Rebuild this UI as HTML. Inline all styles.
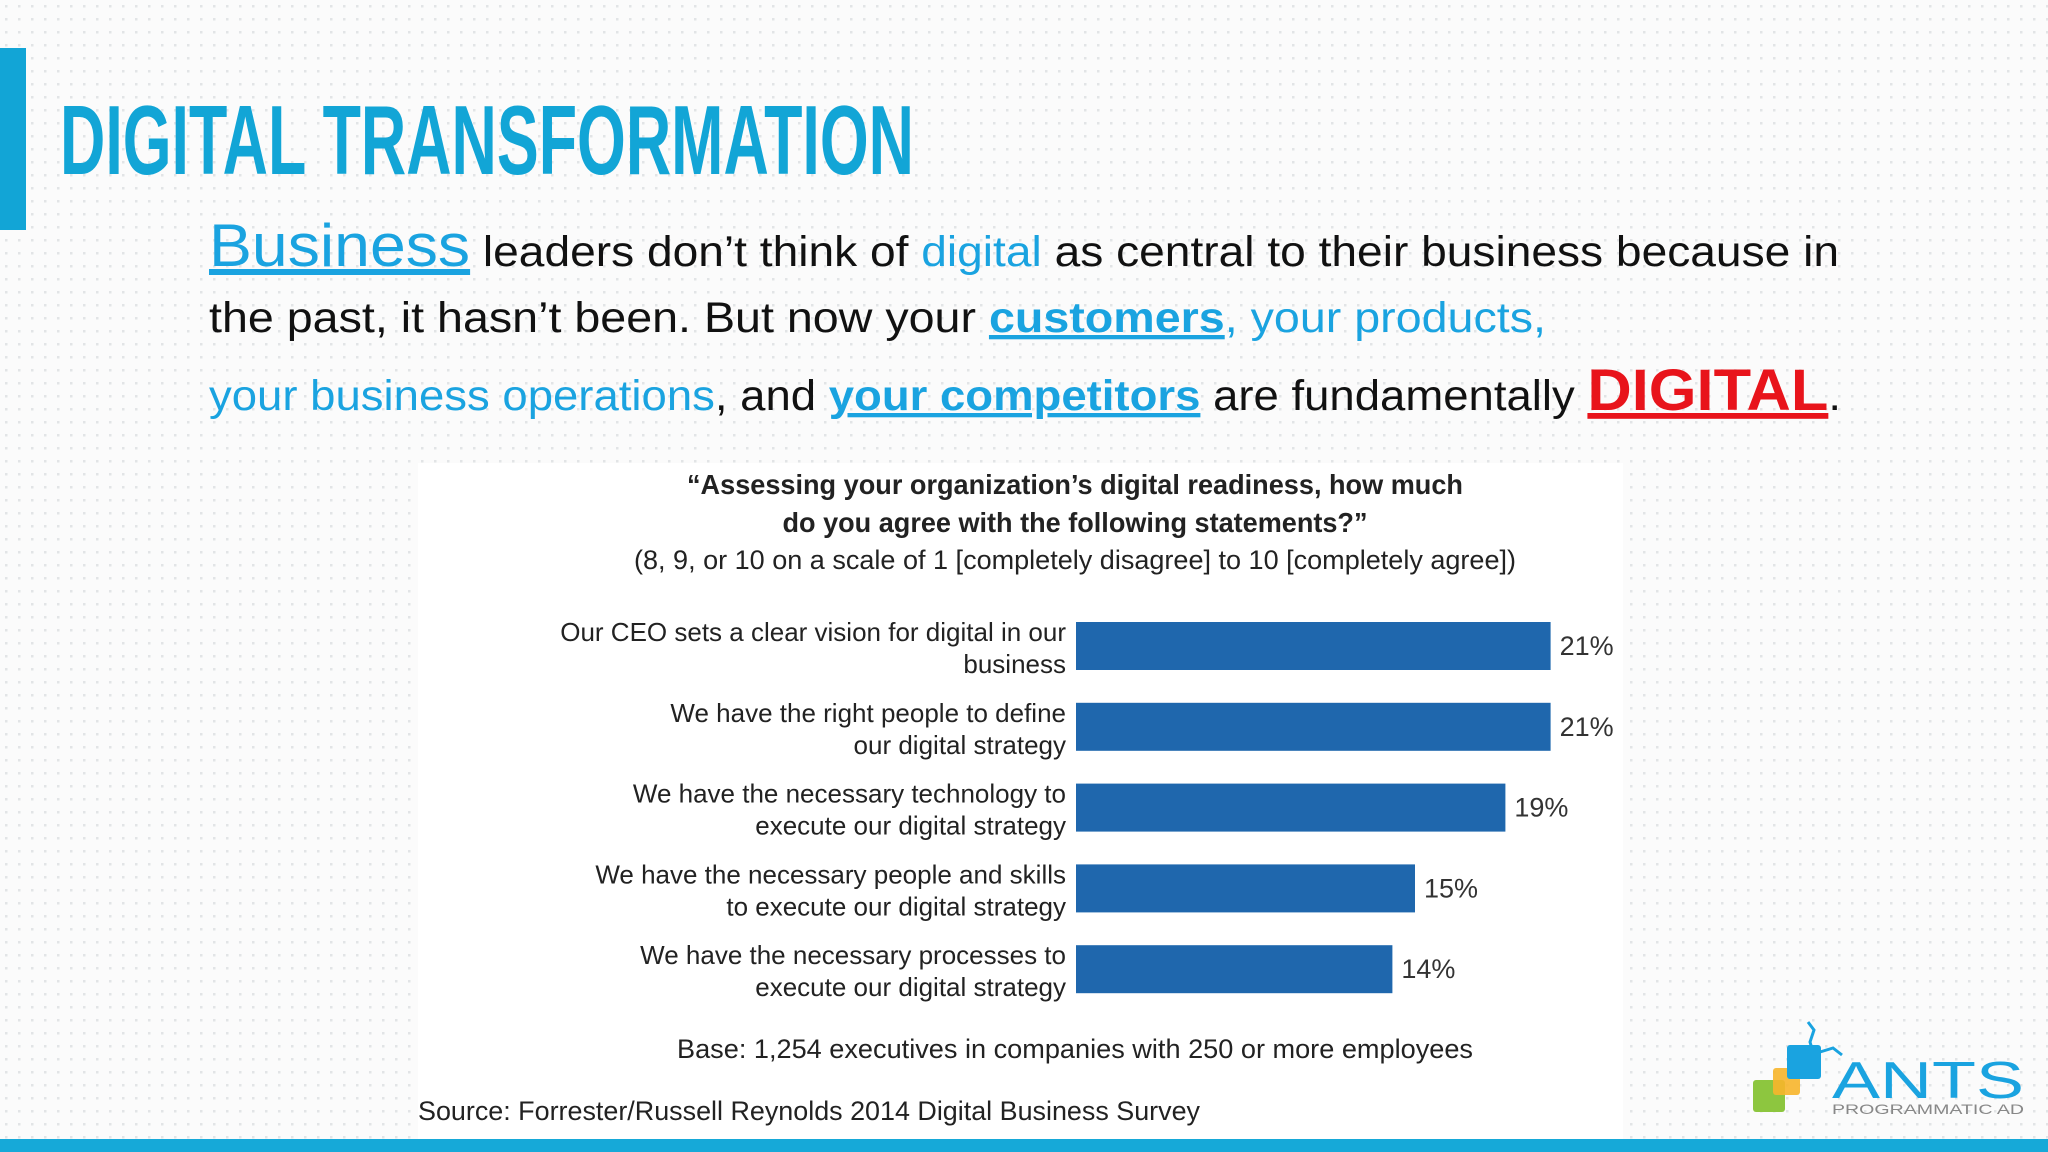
<!DOCTYPE html>
<html><head><meta charset="utf-8"><style>html,body{margin:0;padding:0;background:#fff}svg{display:block}</style></head>
<body>
<svg width="2048" height="1152" viewBox="0 0 2048 1152" xmlns="http://www.w3.org/2000/svg" font-family="Liberation Sans, sans-serif">
<defs>
<pattern id="dots" width="13" height="13" patternUnits="userSpaceOnUse"><rect x="5" y="5" width="2.5" height="2.5" fill="#e2e4e6"/></pattern>
</defs>
<rect width="2048" height="1152" fill="#fbfbfb"/>
<rect width="2048" height="1152" fill="url(#dots)"/>
<rect x="0" y="48" width="26" height="182" fill="#12a5d6"/>
<text x="60" y="174" font-size="98" font-weight="bold" fill="#12a5d6" textLength="854" lengthAdjust="spacingAndGlyphs">DIGITAL TRANSFORMATION</text>

<g font-size="43" fill="#111">
<text x="209" y="266" textLength="1630" lengthAdjust="spacingAndGlyphs"><tspan fill="#1aa3e0" font-size="60" text-decoration="underline">Business</tspan> leaders don’t think of <tspan fill="#1aa3e0">digital</tspan> as central to their business because in</text>
<text x="209" y="332" textLength="1337" lengthAdjust="spacingAndGlyphs">the past, it hasn’t been. But now your <tspan fill="#1aa3e0" font-weight="bold" text-decoration="underline">customers</tspan><tspan fill="#1aa3e0">, your products,</tspan></text>
<text x="209" y="410" textLength="1632" lengthAdjust="spacingAndGlyphs"><tspan fill="#1aa3e0">your business operations</tspan>, and <tspan fill="#1aa3e0" font-weight="bold" text-decoration="underline">your competitors</tspan> are fundamentally <tspan fill="#e8141b" font-weight="bold" font-size="58" text-decoration="underline">DIGITAL</tspan>.</text>
</g>

<rect x="418" y="463" width="1205" height="676" fill="#ffffff"/>
<g fill="#222" text-anchor="middle">
<text x="1075" y="494" font-size="28" font-weight="bold" textLength="776" lengthAdjust="spacingAndGlyphs">“Assessing your organization’s digital readiness, how much</text>
<text x="1075" y="532" font-size="28" font-weight="bold" textLength="585" lengthAdjust="spacingAndGlyphs">do you agree with the following statements?”</text>
<text x="1075" y="569" font-size="27" textLength="882" lengthAdjust="spacingAndGlyphs">(8, 9, or 10 on a scale of 1 [completely disagree] to 10 [completely agree])</text>
</g>
<g id="bars"></g>
<text x="1075" y="1058" font-size="27" fill="#222" text-anchor="middle" textLength="796" lengthAdjust="spacingAndGlyphs">Base: 1,254 executives in companies with 250 or more employees</text>
<text x="418" y="1120" font-size="27" fill="#222" textLength="782" lengthAdjust="spacingAndGlyphs">Source: Forrester/Russell Reynolds 2014 Digital Business Survey</text>

<g>
<path d="M1808 1022 L1814 1030 L1810 1042 L1813 1052" stroke="#1aa3e0" stroke-width="3" fill="none"/>
<path d="M1820 1052 L1833 1048 L1842 1055" stroke="#1aa3e0" stroke-width="3" fill="none"/>
<rect x="1753" y="1080" width="32" height="32" rx="3" fill="#8dc63f"/>
<rect x="1773" y="1068" width="27" height="27" rx="3" fill="#f7b52b" opacity="0.9"/>
<rect x="1787" y="1045" width="34" height="34" rx="3" fill="#1aa3e0"/>
<text x="1832" y="1098" font-size="52" fill="#1aa3e0" textLength="192" lengthAdjust="spacingAndGlyphs">ANTS</text>
<text x="1832" y="1114" font-size="14" fill="#888" textLength="192" lengthAdjust="spacingAndGlyphs">PROGRAMMATIC AD</text>
</g>
<rect x="0" y="1139" width="2048" height="13" fill="#16a9d8"/>
</svg>
<script>
const categories1 = ["Our CEO sets a clear vision for digital in our","We have the right people to define","We have the necessary technology to","We have the necessary people and skills","We have the necessary processes to"];
const categories2 = ["business","our digital strategy","execute our digital strategy","to execute our digital strategy","execute our digital strategy"];
const values = [21, 21, 19, 15, 14];
const valueLabels = ["21%", "21%", "19%", "15%", "14%"];

const NS = "http://www.w3.org/2000/svg";
const g = document.getElementById('bars');
const x0 = 1076, perUnit = 22.6, y0 = 646, step = 80.8, bh = 48;
function xs(v){ return x0 + v * perUnit; }
function ys(i){ return y0 + i * step; }
values.forEach((v, i) => {
  const cy = ys(i);
  const r = document.createElementNS(NS, 'rect');
  r.setAttribute('x', x0); r.setAttribute('y', cy - bh/2);
  r.setAttribute('width', xs(v) - x0); r.setAttribute('height', bh);
  r.setAttribute('fill', '#1f67ad');
  
  
  g.appendChild(r);
  const t = document.createElementNS(NS, 'text');
  t.setAttribute('x', xs(v) + 9); t.setAttribute('y', cy + 9);
  t.setAttribute('font-size', '27'); t.setAttribute('fill', '#333');
  t.textContent = valueLabels[i];
  
  
  g.appendChild(t);
  [categories1[i], categories2[i]].forEach((s, k) => {
    const c = document.createElementNS(NS, 'text');
    c.setAttribute('x', 1066); c.setAttribute('y', cy - 5 + k * 32);
    c.setAttribute('font-size', '26'); c.setAttribute('fill', '#222');
    c.setAttribute('text-anchor', 'end');
    c.textContent = s;
    
    
    g.appendChild(c);
  });
});
</script>
</body></html>
